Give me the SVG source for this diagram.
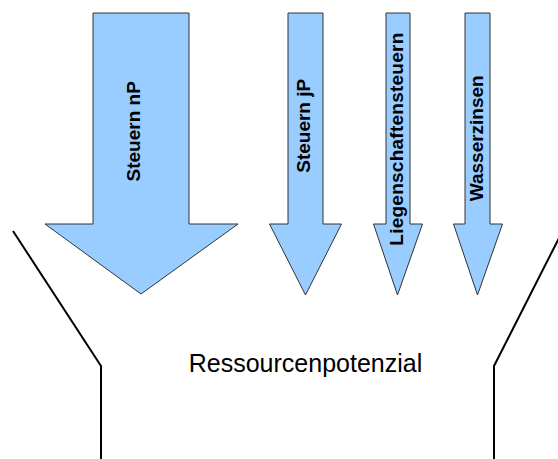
<svg xmlns="http://www.w3.org/2000/svg" width="558" height="459" viewBox="0 0 558 459">
<style>
.arrow{fill:#99ccff;stroke:#333333;stroke-width:1;stroke-linejoin:miter}
.lbl{font-family:"Liberation Sans",Arial,sans-serif;font-weight:bold;font-size:19px;fill:#000;text-anchor:middle}
.funnel{fill:none;stroke:#000;stroke-width:2}
.main{font-family:"Liberation Sans",Arial,sans-serif;font-size:25px;fill:#000;text-anchor:middle}
</style>
<rect width="558" height="459" fill="#fff"/>
<g id="funnel">
<polyline class="funnel" points="13,231 101,366 101,460"/>
<polyline class="funnel" points="560,236 494,366 494,460"/>
</g>
<g id="steuern-np">
<polygon class="arrow" points="93,13 189,13 189,224 238,224 141,294 45,224 93,224"/>
<text class="lbl" transform="translate(139.5,131.3) rotate(-90)">Steuern nP</text>
</g>
<g id="steuern-jp">
<polygon class="arrow" points="288,13 323,13 323,224 341.5,224 305.5,295 269.5,224 288,224"/>
<text class="lbl" transform="translate(309.5,125.8) rotate(-90)">Steuern jP</text>
</g>
<g id="liegenschaftensteuern">
<polygon class="arrow" points="386,13 410,13 410,224 422.5,224 397.5,295 373.5,224 386,224"/>
<text class="lbl" transform="translate(403,139.2) rotate(-90)" textLength="213" lengthAdjust="spacing">Liegenschaftensteuern</text>
</g>
<g id="wasserzinsen">
<polygon class="arrow" points="465,13 490,13 490,224 502.5,224 477.5,295 453.5,224 465,224"/>
<text class="lbl" transform="translate(483,138.3) rotate(-90)">Wasserzinsen</text>
</g>
<g id="ressourcenpotenzial">
<text class="main" x="305.5" y="372">Ressourcenpotenzial</text>
</g>
</svg>
